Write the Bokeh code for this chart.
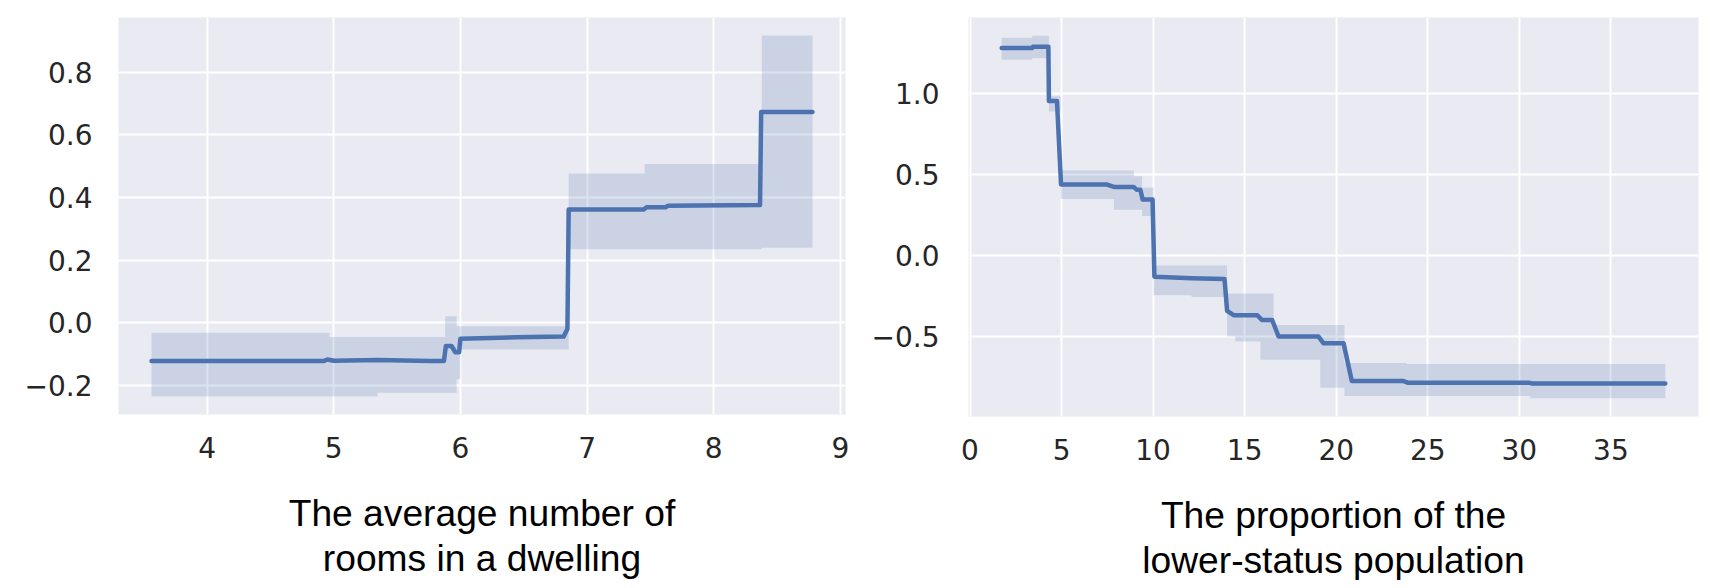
from bokeh.plotting import figure
from bokeh.layouts import row
from bokeh.models import FixedTicker, Range1d
from bokeh.embed import file_html
from bokeh.resources import INLINE

# ---------------- data: left panel (average number of rooms) ----------------
rm_line_x = [3.561, 4.92, 4.95, 5.0, 5.35, 5.76, 5.87, 5.885, 5.93, 5.96, 5.99, 6.0,
             6.44, 6.815, 6.84, 6.845, 6.855, 7.45, 7.47, 7.62, 7.64, 8.366, 8.375, 8.78]
rm_line_y = [-0.122, -0.122, -0.117, -0.121, -0.119, -0.122, -0.122, -0.074, -0.074, -0.094, -0.094, -0.051,
             -0.046, -0.044, -0.024, -0.02, 0.362, 0.362, 0.369, 0.369, 0.374, 0.376, 0.673, 0.673]
rm_band_x = [3.561, 4.965, 5.346, 5.88, 5.97, 6.0, 6.855, 7.455, 8.38, 8.78]
rm_band_lo = [-0.235, -0.235, -0.223, -0.223, -0.18, -0.085, 0.235, 0.235, 0.24]
rm_band_hi = [-0.032, -0.045, -0.045, 0.021, -0.011, -0.011, 0.477, 0.507, 0.917]
rm_xticks = [4, 5, 6, 7, 8, 9]
rm_xtick_labels = ["4", "5", "6", "7", "8", "9"]
rm_yticks = [-0.2, 0.0, 0.2, 0.4, 0.6, 0.8]
rm_ytick_labels = ["\u22120.2", "0.0", "0.2", "0.4", "0.6", "0.8"]
rm_title = "The average number of\nrooms in a dwelling"

# ---------------- data: right panel (lower-status population) ----------------
lstat_line_x = [1.73, 3.40, 3.44, 4.28, 4.31, 4.75, 4.97, 7.45, 7.86, 8.95,
                9.1, 9.3, 9.43, 9.97, 10.07, 12.1, 13.9, 14.04, 14.4, 15.68,
                15.95, 16.5, 16.85, 19.03, 19.3, 20.4, 20.85, 23.67, 23.94, 30.57,
                30.7, 37.97]
lstat_line_y = [1.282, 1.282, 1.291, 1.291, 0.955, 0.955, 0.44, 0.44, 0.424, 0.424,
                0.407, 0.407, 0.346, 0.346, -0.13, -0.14, -0.145, -0.341, -0.368, -0.368,
                -0.398, -0.398, -0.5, -0.5, -0.541, -0.541, -0.775, -0.775, -0.786, -0.786,
                -0.79, -0.79]
lstat_band_x = [1.73, 3.40, 4.31, 4.95, 7.86, 8.95, 9.40, 10.02, 12.1, 14.04, 14.49,
                15.86, 16.58, 19.13, 20.45, 23.85, 30.6, 37.97]
lstat_band_lo = [1.21, 1.22, 0.89, 0.35, 0.283, 0.283, 0.245, -0.245, -0.255, -0.50, -0.53,
                 -0.643, -0.643, -0.816, -0.867, -0.867, -0.882]
lstat_band_hi = [1.346, 1.359, 0.985, 0.526, 0.526, 0.49, 0.421, -0.061, -0.061, -0.234, -0.234,
                 -0.234, -0.428, -0.428, -0.663, -0.67, -0.67]
lstat_xticks = [0, 5, 10, 15, 20, 25, 30, 35]
lstat_xtick_labels = ["0", "5", "10", "15", "20", "25", "30", "35"]
lstat_yticks = [-0.5, 0.0, 0.5, 1.0]
lstat_ytick_labels = ["\u22120.5", "0.0", "0.5", "1.0"]
lstat_title = "The proportion of the\nlower-status population"

LINE = "#4C72B0"
BG = "#EAEAF2"
TICK_COLOR = "#262626"


def step_expand(edges, vals):
    xs, ys = [], []
    for i, v in enumerate(vals):
        xs += [edges[i], edges[i + 1]]
        ys += [v, v]
    return xs, ys


def make_panel(lx, ly, bx, blo, bhi, xt, xtl, yt, ytl, title,
               fw, fh, bl, br, bt, bb, ystand):
    xmin = min(bx + lx)
    xmax = max(bx + lx)
    ymin = min(blo + ly)
    ymax = max(bhi + ly)
    px = 0.05 * (xmax - xmin)
    py = 0.05 * (ymax - ymin)
    p = figure(frame_width=fw, frame_height=fh,
               min_border_left=bl, min_border_right=br,
               min_border_top=bt, min_border_bottom=bb,
               x_range=Range1d(xmin - px, xmax + px),
               y_range=Range1d(ymin - py, ymax + py),
               output_backend="svg", toolbar_location=None)
    p.background_fill_color = BG
    p.border_fill_color = "white"
    p.outline_line_color = None

    ex, elo = step_expand(bx, blo)
    _, ehi = step_expand(bx, bhi)
    p.varea(x=ex, y1=elo, y2=ehi, fill_color=LINE, fill_alpha=0.2)
    p.line(lx, ly, line_color=LINE, line_width=4.5, line_cap="round", line_join="round")

    p.xaxis.ticker = FixedTicker(ticks=xt)
    p.yaxis.ticker = FixedTicker(ticks=yt)
    p.xaxis.major_label_overrides = {t: s for t, s in zip(xt, xtl)}
    p.yaxis.major_label_overrides = {t: s for t, s in zip(yt, ytl)}
    for ax in (p.xaxis, p.yaxis):
        ax.axis_line_color = None
        ax.major_tick_line_color = None
        ax.minor_tick_line_color = None
        ax.major_tick_out = 0
        ax.major_tick_in = 0
        ax.major_label_text_font = "DejaVu Sans"
        ax.major_label_text_font_size = "28px"
        ax.major_label_text_color = TICK_COLOR
    p.yaxis.major_label_standoff = ystand
    p.xaxis.major_label_standoff = 22
    p.xaxis.axis_label = title
    p.xaxis.axis_label_text_font = "Liberation Sans"
    p.xaxis.axis_label_text_font_size = "37.2px"
    p.xaxis.axis_label_text_font_style = "normal"
    p.xaxis.axis_label_text_color = "black"
    p.xaxis.axis_label_text_line_height = 1.09
    p.xaxis.axis_label_standoff = 31
    p.xgrid.grid_line_color = "white"
    p.ygrid.grid_line_color = "white"
    p.xgrid.grid_line_width = 2
    p.ygrid.grid_line_width = 2
    return p


p1 = make_panel(rm_line_x, rm_line_y, rm_band_x, rm_band_lo, rm_band_hi,
                rm_xticks, rm_xtick_labels, rm_yticks, rm_ytick_labels, rm_title,
                727, 397, 118, 15, 17, 166, 26)
p2 = make_panel(lstat_line_x, lstat_line_y, lstat_band_x, lstat_band_lo, lstat_band_hi,
                lstat_xticks, lstat_xtick_labels, lstat_yticks, lstat_ytick_labels, lstat_title,
                730, 399, 108, 14, 13, 168, 29)

layout = row(p1, p2)
open("out.html", "w").write(file_html(layout, INLINE))
